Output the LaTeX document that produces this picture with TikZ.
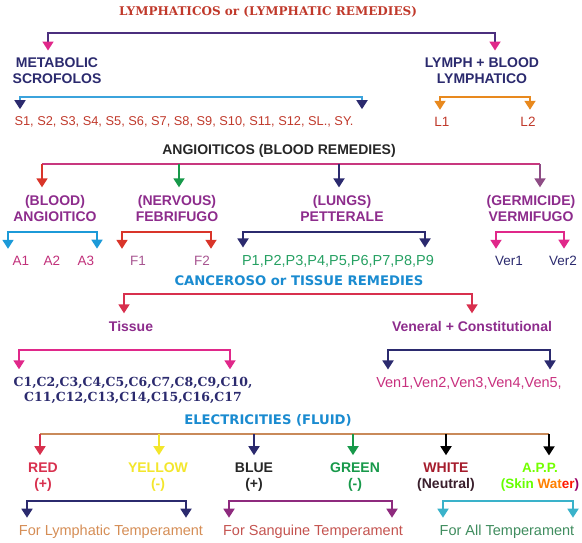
\documentclass[tikz,border=0pt]{standalone}
\usepackage{fontspec}
\setmainfont{Liberation Sans}
\newfontfamily\slabfont{DejaVu Serif}
\newfontfamily\heavyfont{DejaVu Sans}
\usetikzlibrary{arrows.meta}

\definecolor{lymred}{HTML}{C0392B}
\definecolor{navy}{HTML}{2B2A6E}
\definecolor{pinkA}{HTML}{E0288A}
\definecolor{lymline}{HTML}{4B2F7E}
\definecolor{skyline}{HTML}{3BA3DC}
\definecolor{orangeA}{HTML}{E8891E}
\definecolor{angline}{HTML}{C8387F}
\definecolor{redA}{HTML}{D9352A}
\definecolor{greenA}{HTML}{17994A}
\definecolor{mauveA}{HTML}{8E4C85}
\definecolor{labpurple}{HTML}{8D2C8C}
\definecolor{blueA}{HTML}{1C9AD8}
\definecolor{aleaf}{HTML}{C1307A}
\definecolor{fleaf}{HTML}{A75490}
\definecolor{pgreen}{HTML}{25A062}
\definecolor{cancblue}{HTML}{1A8BD0}
\definecolor{cancred}{HTML}{D8304E}
\definecolor{venleaf}{HTML}{C8307E}
\definecolor{elecline}{HTML}{C98A5A}
\definecolor{yellowA}{HTML}{F3E62C}
\definecolor{whitered}{HTML}{A51C2C}
\definecolor{neutral}{HTML}{3A1F2C}
\definecolor{sanline}{HTML}{8E2A7E}
\definecolor{allline}{HTML}{3AB2CA}
\definecolor{lymtxt}{HTML}{D58D55}
\definecolor{santxt}{HTML}{C4534F}
\definecolor{alltxt}{HTML}{3F8C5E}

\tikzset{
  tip/.style={-{Triangle[width=11pt,length=9pt,color=#1]}},
  brk/.style={line width=1.8pt, {Triangle[width=11pt,length=9pt,color=#1]}-{Triangle[width=11pt,length=9pt,color=#1]}, shorten <=4pt, shorten >=4pt},
  stem/.style={line width=1.8pt, tip=#1, shorten >=4pt},
  bar/.style={line width=1.8pt},
  lab/.style={font=\bfseries\fontsize{14}{16}\selectfont, align=center},
  leaf/.style={font=\fontsize{13.5}{16}\selectfont},
  bigleaf/.style={font=\fontsize{14.5}{16}\selectfont},
  head/.style={font=\heavyfont\bfseries\fontsize{13.2}{15}\selectfont}
}

\begin{document}
\begin{tikzpicture}[x=1pt, y=-1pt]
\useasboundingbox (0,0) rectangle (582,542);

% lymphatic remedies
\node[lymred, font=\slabfont\bfseries\fontsize{12}{14}\selectfont] (lym) at (268,12) {LYMPHATICOS or (LYMPHATIC REMEDIES)};
\coordinate (lymL) at (48,33);
\coordinate (lymR) at (495,33);
\node[lab, navy] (meta) at (57,71) {METABOLIC\\SCROFOLOS};
\node[lab, navy] (lph) at (482,71) {LYMPH + BLOOD\\LYMPHATICO};
\draw[brk=pinkA, lymline] (lymL |- meta.north) -- (lymL) -- (lymR) -- (lymR |- lph.north);

\coordinate (sL) at (20,97);
\coordinate (sR) at (362,97);
\node[leaf, lymred, anchor=west, font=\fontsize{12.8}{15}\selectfont] (slist) at (11,122) {S1, S2, S3, S4, S5, S6, S7, S8, S9, S10, S11, S12, SL., SY.};
\draw[brk=navy, skyline] (sL |- slist.north) -- (sL) -- (sR) -- (sR |- slist.north);

\coordinate (lL) at (440,97);
\coordinate (lR) at (530,97);
\node[leaf, lymred] (l1) at (442,122) {L1};
\node[leaf, lymred] (l2) at (528,122) {L2};
\draw[brk=orangeA, orangeA] (lL |- l1.north) -- (lL) -- (lR) -- (lR |- l2.north);

% blood remedies
\node[lab, black!85] (ang) at (279,151) {ANGIOITICOS (BLOOD REMEDIES)};
\coordinate (aL) at (42,164);
\coordinate (aN) at (179,164);
\coordinate (aU) at (339,164);
\coordinate (aR) at (540,164);
\node[lab, labpurple] (blood) at (55,208) {(BLOOD)\\ANGIOITICO};
\node[lab, labpurple] (nerv) at (177,208) {(NERVOUS)\\FEBRIFUGO};
\node[lab, labpurple] (lungs) at (342,208) {(LUNGS)\\PETTERALE};
\node[lab, labpurple] (germ) at (531,208) {(GERMICIDE)\\VERMIFUGO};
\draw[bar, angline] (aL) -- (aR);
\draw[stem=redA, redA] (aL) -- (aL |- blood.north);
\draw[stem=greenA, greenA] (aN) -- (aN |- nerv.north);
\draw[stem=navy, navy] (aU) -- (aU |- lungs.north);
\draw[stem=mauveA, mauveA] (aR) -- (aR |- germ.north);

\coordinate (abL) at (8,232);
\coordinate (abR) at (97,232);
\node[leaf, aleaf] (a1) at (21,261) {A1};
\node[leaf, aleaf] (a2) at (52,261) {A2};
\node[leaf, aleaf] (a3) at (86,261) {A3};
\draw[brk=blueA, blueA] (abL |- a1.north) -- (abL) -- (abR) -- (abR |- a3.north);

\coordinate (fL) at (122,232);
\coordinate (fR) at (211,232);
\node[leaf, fleaf] (f1) at (138,261) {F1};
\node[leaf, fleaf] (f2) at (202,261) {F2};
\draw[brk=redA, redA] (fL |- f1.north) -- (fL) -- (fR) -- (fR |- f2.north);

\coordinate (pL) at (243,232);
\coordinate (pR) at (425,232);
\node[bigleaf, pgreen] (plist) at (338,261) {P1,P2,P3,P4,P5,P6,P7,P8,P9};
\draw[brk=navy, navy] (pL |- plist.north) -- (pL) -- (pR) -- (pR |- plist.north);

\coordinate (vL) at (496,232);
\coordinate (vR) at (564,232);
\node[leaf, navy] (ver1) at (509,261) {Ver1};
\node[leaf, navy] (ver2) at (563,261) {Ver2};
\draw[brk=pinkA, pinkA] (vL |- ver1.north) -- (vL) -- (vR) -- (vR |- ver2.north);

% tissue remedies
\node[head, cancblue] (canc) at (299,281) {CANCEROSO or TISSUE REMEDIES};
\coordinate (cL) at (124,294);
\coordinate (cR) at (472,294);
\node[lab, labpurple] (tissue) at (131,326) {Tissue};
\node[lab, labpurple] (vener) at (472,326) {Veneral + Constitutional};
\draw[brk=cancred, cancred] (cL |- tissue.north) -- (cL) -- (cR) -- (cR |- vener.north);

\coordinate (tL) at (19,350);
\coordinate (tR) at (230,350);
\node[navy, align=center, font=\slabfont\bfseries\fontsize{12.5}{15}\selectfont] (clist) at (133,390) {C1,C2,C3,C4,C5,C6,C7,C8,C9,C10,\\C11,C12,C13,C14,C15,C16,C17};
\draw[brk=pinkA, pinkA] (tL |- clist.north) -- (tL) -- (tR) -- (tR |- clist.north);

\coordinate (vnL) at (388,350);
\coordinate (vnR) at (550,350);
\node[bigleaf, venleaf] (ven) at (469,383) {Ven1,Ven2,Ven3,Ven4,Ven5,};
\draw[brk=navy, navy] (vnL |- ven.north) -- (vnL) -- (vnR) -- (vnR |- ven.north);

% electricities
\node[head, cancblue] (elec) at (268,420) {ELECTRICITIES (FLUID)};
\coordinate (eR1) at (40,434);
\coordinate (eY) at (159,434);
\coordinate (eB) at (254,434);
\coordinate (eG) at (353,434);
\coordinate (eW) at (446,434);
\coordinate (eA) at (549,434);
\node[lab, cancred] (red) at (43,477) {RED\\(+)};
\node[lab, yellowA] (yellow) at (158,477) {YELLOW\\(-)};
\node[lab, black!85] (blue) at (254,477) {BLUE\\(+)};
\node[lab, greenA] (green) at (355,477) {GREEN\\(-)};
\node[lab, align=center] (white) at (446,477) {\textcolor{whitered}{WHITE}\\\textcolor{neutral}{(Neutral)}};
\node[lab, align=center, font=\bfseries\fontsize{13.5}{16}\selectfont] (app) at (540,477) {\textcolor{green!55!yellow}{A.P.P.}\\\textcolor{green!60!yellow}{(Skin} \textcolor{orange}{Wat}\textcolor{red!80!orange}{er}\textcolor{violet!80!red}{)}};
\draw[bar, elecline] (eR1) -- (eA);
\draw[stem=cancred, cancred] (eR1) -- (eR1 |- red.north);
\draw[stem=yellowA, yellowA] (eY) -- (eY |- yellow.north);
\draw[stem=navy, navy] (eB) -- (eB |- blue.north);
\draw[stem=greenA, greenA] (eG) -- (eG |- green.north);
\draw[stem=black, black] (eW) -- (eW |- white.north);
\draw[stem=black, black] (eA) -- (eA |- app.north);

\coordinate (tyL) at (27,501);
\coordinate (tyR) at (186,501);
\node[bigleaf, lymtxt] (forlym) at (111,532) {For Lymphatic Temperament};
\draw[brk=navy, navy] (tyL |- forlym.north) -- (tyL) -- (tyR) -- (tyR |- forlym.north);

\coordinate (tsL) at (229,501);
\coordinate (tsR) at (392,501);
\node[bigleaf, santxt] (forsan) at (313,532) {For Sanguine Temperament};
\draw[brk=sanline, sanline] (tsL |- forsan.north) -- (tsL) -- (tsR) -- (tsR |- forsan.north);

\coordinate (taL) at (443,501);
\coordinate (taR) at (573,501);
\node[bigleaf, alltxt] (forall) at (507,532) {For All Temperament};
\draw[brk=allline, allline] (taL |- forall.north) -- (taL) -- (taR) -- (taR |- forall.north);

\end{tikzpicture}
\end{document}
